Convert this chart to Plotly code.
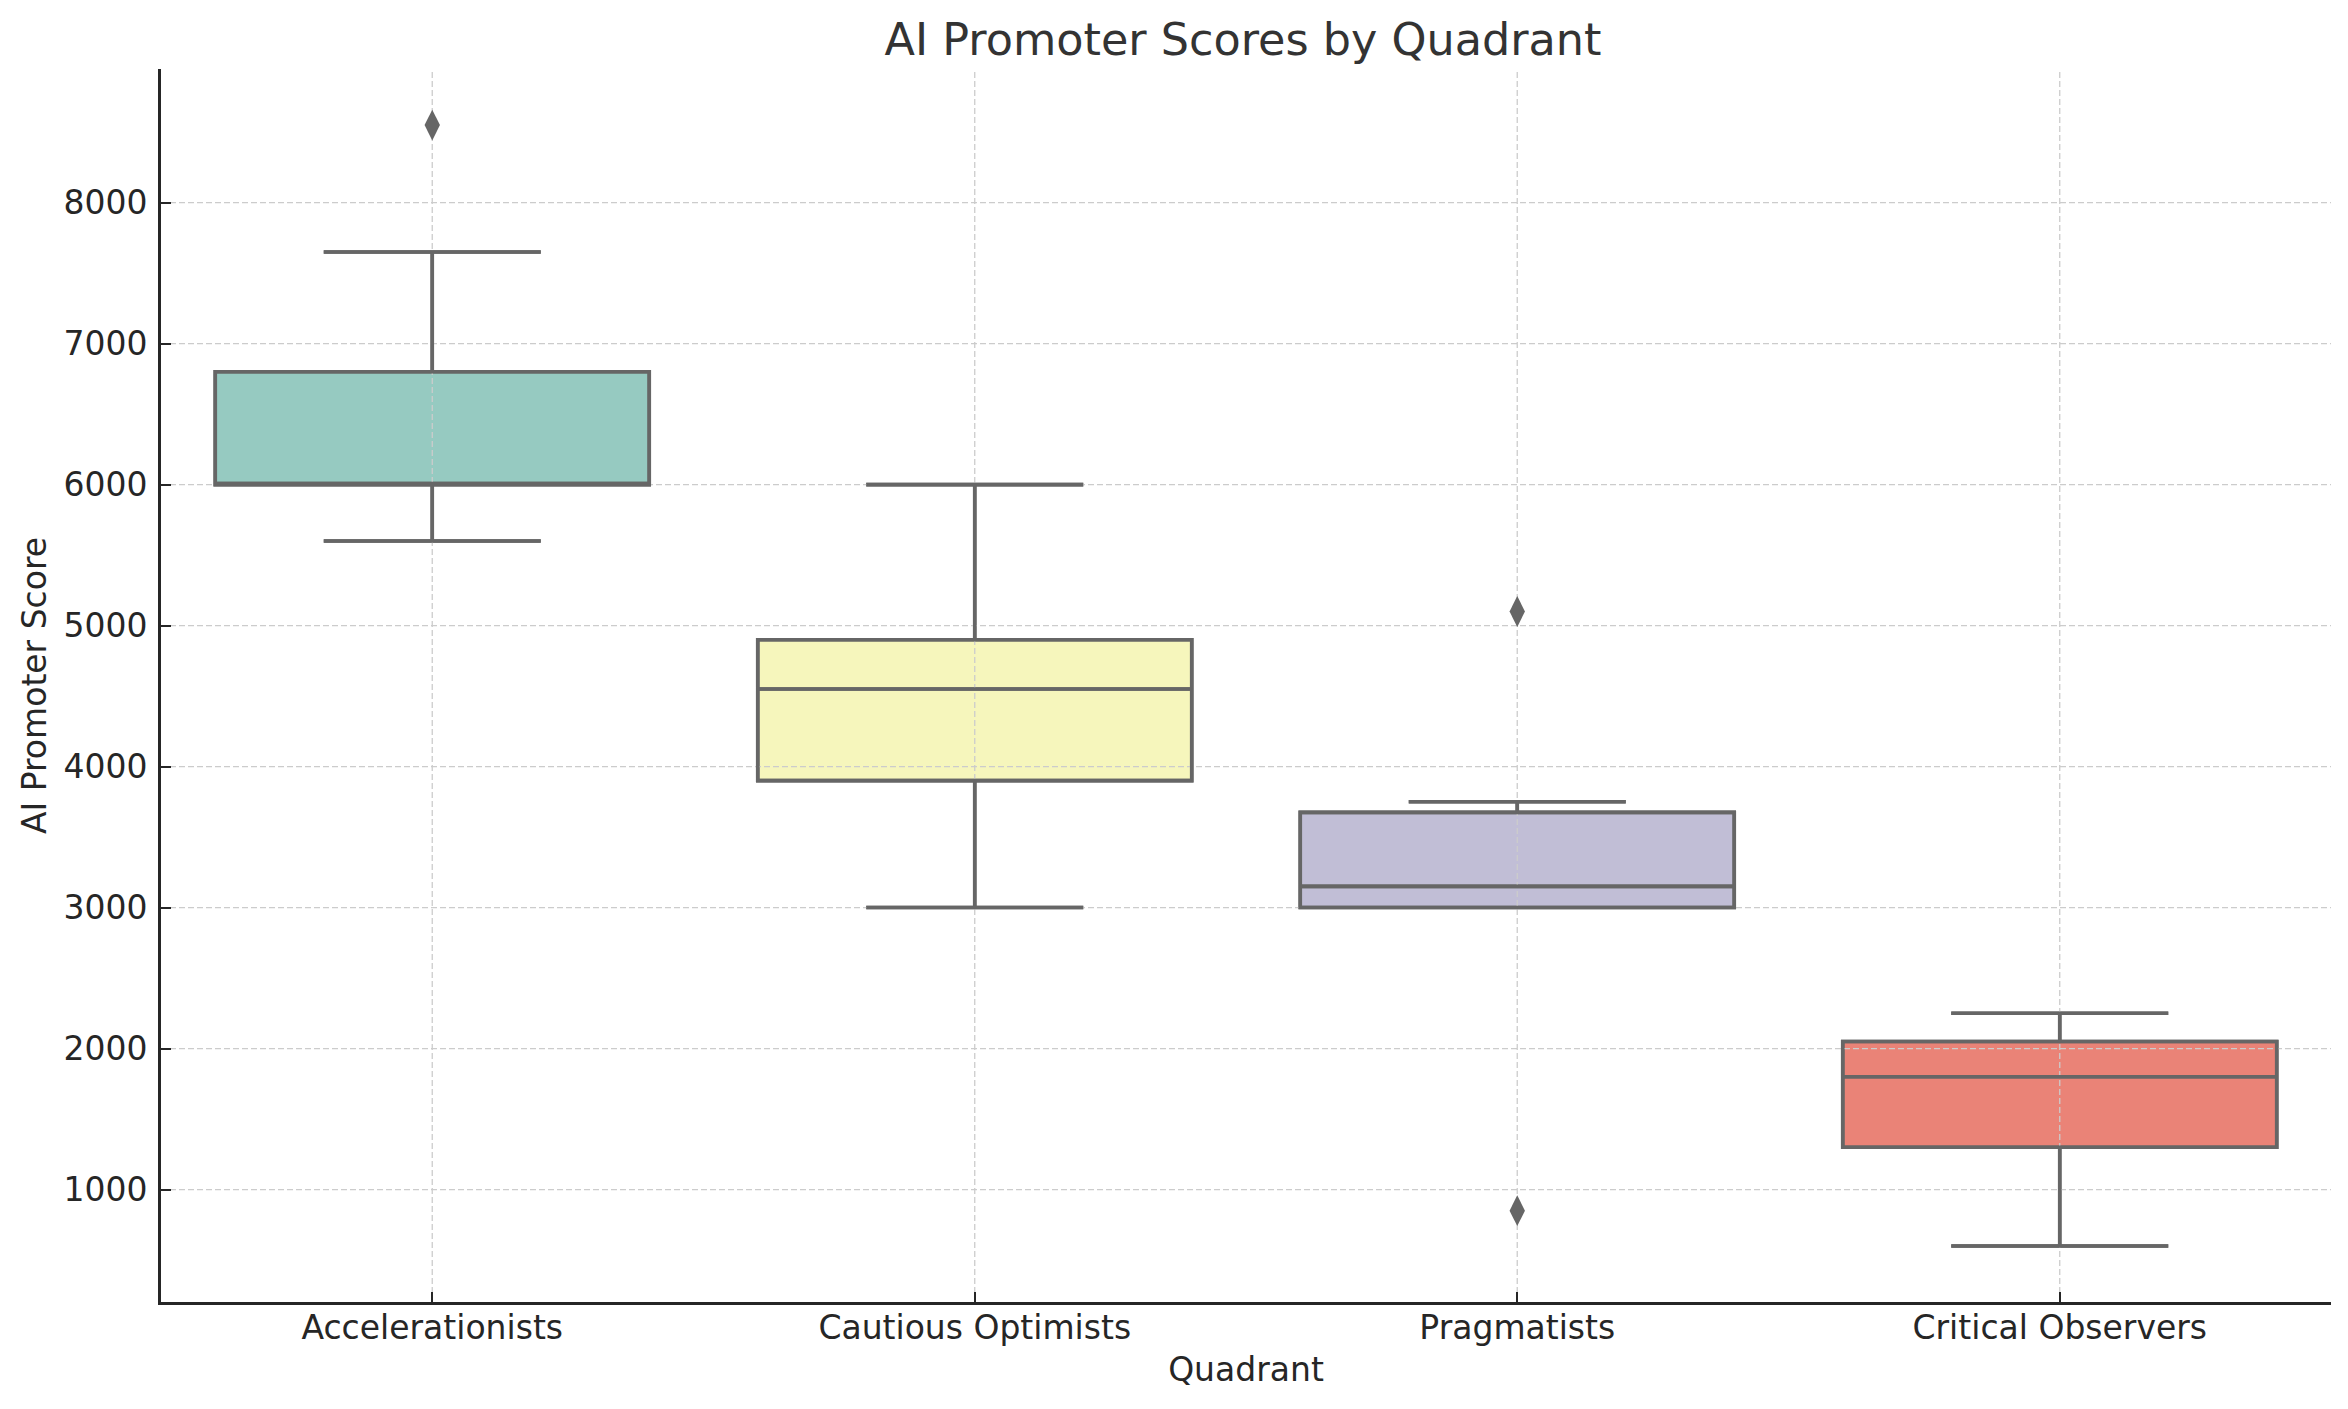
import plotly.graph_objects as go

categories = ["Accelerationists", "Cautious Optimists", "Pragmatists", "Critical Observers"]
q1 = [6000, 3900, 3000, 1300]
median = [6000, 4550, 3150, 1800]
q3 = [6800, 4900, 3675, 2050]
lower_whisker = [5600, 3000, 3000, 600]
upper_whisker = [7650, 6000, 3750, 2250]
outlier_cat = ["Accelerationists", "Pragmatists", "Pragmatists"]
outlier_val = [8550, 5100, 850]
colors = ["#96cac1", "#f6f6bc", "#c1bed6", "#ea8377"]
y_ticks = [1000, 2000, 3000, 4000, 5000, 6000, 7000, 8000]

FONT = "DejaVu Sans"
LINE = "#666666"
TEXT = "#262626"
GRID = "#cccccc"

pos = list(range(len(categories)))
x_range = [-0.5, len(categories) - 0.5]
all_vals = lower_whisker + upper_whisker + outlier_val
vmin, vmax = min(all_vals), max(all_vals)
pad = 0.05 * (vmax - vmin)
y_range = [vmin - pad, vmax + pad]

fig = go.Figure()
# layer 1: filled boxes
for i, cat in enumerate(categories):
    fig.add_trace(go.Box(
        x=[pos[i]], q1=[q1[i]], median=[median[i]], q3=[q3[i]],
        lowerfence=[lower_whisker[i]], upperfence=[upper_whisker[i]],
        fillcolor=colors[i], line=dict(color=LINE, width=3.6),
        width=0.8, whiskerwidth=0.5, boxpoints=False, showlegend=False,
        name=cat, hoverinfo="y", xaxis="x", yaxis="y"))

# layer 2: grid lines (above box fill)
gx, gy = [], []
for t in y_ticks:
    gx += [x_range[0], x_range[1], None]
    gy += [t, t, None]
for p in pos:
    gx += [p, p, None]
    gy += [y_range[0], y_range[1], None]
fig.add_trace(go.Scatter(
    x=gx, y=gy, mode="lines", line=dict(color=GRID, width=1.3, dash="6px,3px"),
    hoverinfo="skip", showlegend=False, xaxis="x2", yaxis="y"))

# layer 3: whiskers, caps, medians above grid
for i, cat in enumerate(categories):
    fig.add_trace(go.Box(
        x=[pos[i]], q1=[q1[i]], median=[median[i]], q3=[q3[i]],
        lowerfence=[lower_whisker[i]], upperfence=[upper_whisker[i]],
        fillcolor="rgba(0,0,0,0)", line=dict(color=LINE, width=3.6),
        width=0.8, whiskerwidth=0.5, boxpoints=False, showlegend=False,
        name=cat, hoverinfo="skip", xaxis="x3", yaxis="y"))

fig.add_trace(go.Scatter(
    x=[categories.index(c) for c in outlier_cat], y=outlier_val, mode="markers",
    marker=dict(symbol="diamond-tall", size=22, color=LINE, line=dict(width=0)),
    showlegend=False, xaxis="x3", yaxis="y"))

W, H = 2340, 1401
fig.update_layout(
    width=W, height=H,
    margin=dict(l=153, r=17, t=61, b=107),
    paper_bgcolor="white", plot_bgcolor="white",
    boxmode="overlay",
    font=dict(family=FONT, size=33, color=TEXT),
    title=dict(text="AI Promoter Scores by Quadrant", x=1235 / W, xanchor="center",
               y=1 - 31 / H, yanchor="middle", yref="container",
               font=dict(family=FONT, size=44.5, color="#333333")),
    xaxis=dict(
        range=x_range, tickvals=pos, ticktext=categories,
        showgrid=False, zeroline=False,
        showline=True, linecolor=TEXT, linewidth=2.7,
        ticks="inside", ticklen=10, tickwidth=2, tickcolor=TEXT,
        ticklabelstandoff=-5,
        tickfont=dict(family=FONT, size=33, color=TEXT),
        title=dict(text="Quadrant", font=dict(family=FONT, size=33, color=TEXT), standoff=12),
    ),
    xaxis2=dict(overlaying="x", matches="x", visible=False, range=x_range),
    xaxis3=dict(overlaying="x", matches="x", visible=False, range=x_range),
    yaxis=dict(
        range=y_range, tickvals=y_ticks,
        showgrid=False, zeroline=False,
        showline=True, linecolor=TEXT, linewidth=2.7,
        ticks="inside", ticklen=10, tickwidth=2, tickcolor=TEXT,
        ticklabelstandoff=4,
        tickfont=dict(family=FONT, size=33, color=TEXT),
        title=dict(text="AI Promoter Score", font=dict(family=FONT, size=33, color=TEXT), standoff=8),
    ),
)

fig.write_html("out.html")
